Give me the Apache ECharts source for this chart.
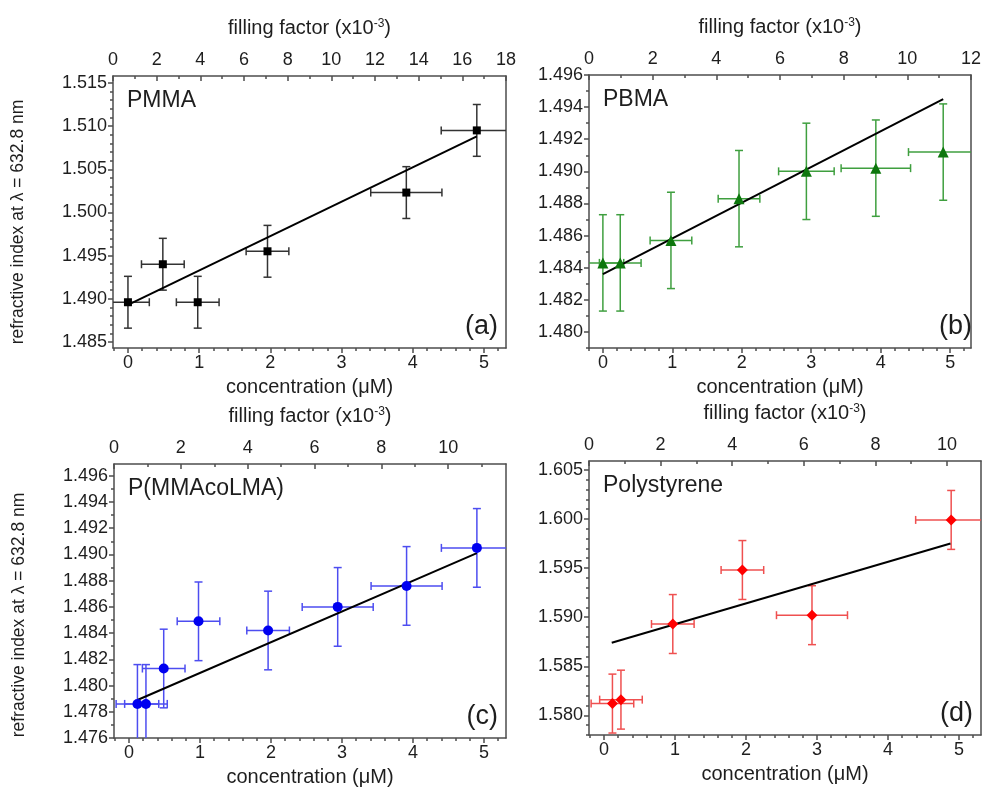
<!DOCTYPE html>
<html>
<head>
<meta charset="utf-8">
<script src="https://cdn.jsdelivr.net/npm/echarts@6/dist/echarts.min.js"></script>
<style>html,body{margin:0;padding:0;background:#fff}#c{width:984px;height:788px}</style>
</head>
<body>
<div id="c"></div>
<script>
// ---------------- data ----------------
const titles = ['PMMA', 'PBMA', 'P(MMAcoLMA)', 'Polystyrene'];
const tags = ['(a)', '(b)', '(c)', '(d)'];

const concTicks = [0, 1, 2, 3, 4, 5];

// (a) PMMA
const concA = [0.0, 0.49, 0.98, 1.96, 3.91, 4.90];
const nA = [1.4896, 1.4940, 1.4896, 1.4955, 1.5023, 1.5095];
const errXA = [0.3, 0.3, 0.3, 0.3, 0.5, 0.5];
const errYA = [0.003, 0.003, 0.003, 0.003, 0.003, 0.003];
const fitA = [[0.0, 1.4893], [4.9, 1.5088]];
const yTicksA = [1.485, 1.490, 1.495, 1.500, 1.505, 1.510, 1.515];
const ffTicksA = [0, 2, 4, 6, 8, 10, 12, 14, 16, 18];

// (b) PBMA
const concB = [0.0, 0.25, 0.98, 1.96, 2.93, 3.93, 4.90];
const nB = [1.4843, 1.4843, 1.4857, 1.4883, 1.4900, 1.4902, 1.4912];
const errXB = [0.3, 0.3, 0.3, 0.3, 0.4, 0.5, 0.5];
const errYB = [0.003, 0.003, 0.003, 0.003, 0.003, 0.003, 0.003];
const fitB = [[0.0, 1.4836], [4.9, 1.4945]];
const yTicksB = [1.480, 1.482, 1.484, 1.486, 1.488, 1.490, 1.492, 1.494, 1.496];
const ffTicksB = [0, 2, 4, 6, 8, 10, 12];

// (c) P(MMAcoLMA)
const concC = [0.12, 0.24, 0.49, 0.98, 1.96, 2.94, 3.91, 4.90];
const nC = [1.4786, 1.4786, 1.4813, 1.4849, 1.4842, 1.4860, 1.4876, 1.4905];
const errXC = [0.3, 0.3, 0.3, 0.3, 0.3, 0.5, 0.5, 0.5];
const errYC = [0.003, 0.003, 0.003, 0.003, 0.003, 0.003, 0.003, 0.003];
const fitC = [[0.12, 1.4789], [4.9, 1.4901]];
const yTicksC = [1.476, 1.478, 1.480, 1.482, 1.484, 1.486, 1.488, 1.490, 1.492, 1.494, 1.496];
const ffTicksC = [0, 2, 4, 6, 8, 10];

// (d) Polystyrene
const concD = [0.12, 0.24, 0.97, 1.95, 2.93, 4.89];
const nD = [1.5812, 1.5816, 1.5893, 1.5948, 1.5902, 1.5999];
const errXD = [0.3, 0.3, 0.3, 0.3, 0.5, 0.5];
const errYD = [0.003, 0.003, 0.003, 0.003, 0.003, 0.003];
const fitD = [[0.11, 1.5874], [4.88, 1.5975]];
const yTicksD = [1.580, 1.585, 1.590, 1.595, 1.600, 1.605];
const ffTicksD = [0, 2, 4, 6, 8, 10];

// ---------------- layout / style ----------------
const FONT = '"Liberation Sans", Arial, Helvetica, sans-serif';
const TXT = '#1e1e1e';
const AX = '#4d4d4d';

const grids = [
  {left: 113, top: 76, width: 393, height: 272},
  {left: 589, top: 75, width: 391, height: 273},
  {left: 114, top: 464, width: 392, height: 274},
  {left: 589, top: 461, width: 392, height: 274}
];

const panels = [
  {conc: concA, n: nA, ex: errXA, ey: errYA, fit: fitA, yTicks: yTicksA, ffTicks: ffTicksA,
   xr: [-0.21, 5.31], yr: [1.4843, 1.5158], ffMax: 18, yMinorStep: 0.001,
   symbol: 'rect', size: 8, color: '#000000', errColor: '#333333', yName: true, namePad: 20},
  {conc: concB, n: nB, ex: errXB, ey: errYB, fit: fitB, yTicks: yTicksB, ffTicks: ffTicksB,
   xr: [-0.2, 5.3], yr: [1.479, 1.496], ffMax: 12, yMinorStep: 0.001,
   symbol: 'triangle', size: 11, color: '#0d770d', errColor: '#3f9f3f', yName: false},
  {conc: concC, n: nC, ex: errXC, ey: errYC, fit: fitC, yTicks: yTicksC, ffTicks: ffTicksC,
   xr: [-0.21, 5.31], yr: [1.476, 1.4969], ffMax: 11.73, yMinorStep: 0.001,
   symbol: 'circle', size: 10, color: '#0000f0', errColor: '#4d4df0', yName: true, namePad: 28},
  {conc: concD, n: nD, ex: errXD, ey: errYD, fit: fitD, yTicks: yTicksD, ffTicks: ffTicksD,
   xr: [-0.21, 5.31], yr: [1.578, 1.6059], ffMax: 10.95, yMinorStep: 0.001,
   symbol: 'diamond', size: 11, color: '#ff0000', errColor: '#ef5050', yName: false}
];

function stepsIn(lo, hi, step) {
  const out = [];
  for (let k = Math.ceil(lo / step - 1e-9); k <= Math.floor(hi / step + 1e-9); k++) {
    out.push(Math.round(k * step * 1e6) / 1e6);
  }
  return out;
}

function errRender(color) {
  return function (params, api) {
    const x = api.value(0), y = api.value(1), dx = api.value(2), dy = api.value(3);
    const cs = params.coordSys;
    const minX = cs.x, maxX = cs.x + cs.width, minY = cs.y, maxY = cs.y + cs.height;
    const cx = v => Math.max(minX, Math.min(maxX, v));
    const cy = v => Math.max(minY, Math.min(maxY, v));
    const c = api.coord([x, y]);
    const l = api.coord([x - dx, y]);
    const r = api.coord([x + dx, y]);
    const t = api.coord([x, y + dy]);
    const b = api.coord([x, y - dy]);
    const style = {stroke: color, lineWidth: 1.5};
    const cap = 4;
    const ch = [
      {type: 'line', shape: {x1: cx(l[0]), y1: c[1], x2: cx(r[0]), y2: c[1]}, style},
      {type: 'line', shape: {x1: c[0], y1: cy(t[1]), x2: c[0], y2: cy(b[1])}, style}
    ];
    if (l[0] >= minX) ch.push({type: 'line', shape: {x1: l[0], y1: c[1] - cap, x2: l[0], y2: c[1] + cap}, style});
    if (r[0] <= maxX) ch.push({type: 'line', shape: {x1: r[0], y1: c[1] - cap, x2: r[0], y2: c[1] + cap}, style});
    if (t[1] >= minY) ch.push({type: 'line', shape: {x1: c[0] - cap, y1: t[1], x2: c[0] + cap, y2: t[1]}, style});
    if (b[1] <= maxY) ch.push({type: 'line', shape: {x1: c[0] - cap, y1: b[1], x2: c[0] + cap, y2: b[1]}, style});
    return {type: 'group', children: ch};
  };
}

const xAxes = [], yAxes = [], series = [], graphics = [];
const lineStyle = {color: AX, width: 1.5};
const labelBase = {color: TXT, fontFamily: FONT, fontSize: 18};

panels.forEach((p, i) => {
  const g = grids[i];
  const xBase = xAxes.length, yBase = yAxes.length;
  // bottom major (data axis)
  xAxes.push({
    gridIndex: i, type: 'value', position: 'bottom', min: p.xr[0], max: p.xr[1],
    axisLine: {onZero: false, lineStyle},
    axisTick: {inside: false, length: 5, customValues: concTicks, lineStyle},
    axisLabel: Object.assign({customValues: concTicks, margin: 6}, labelBase),
    splitLine: {show: false},
    name: 'concentration (\u03bcM)', nameLocation: 'middle', nameGap: 29,
    nameTextStyle: {color: TXT, fontFamily: FONT, fontSize: 20}
  });
  // bottom minor
  xAxes.push({
    gridIndex: i, type: 'value', position: 'bottom', min: p.xr[0], max: p.xr[1],
    axisLine: {show: false, onZero: false},
    axisTick: {inside: false, length: 3, customValues: stepsIn(p.xr[0], p.xr[1], 0.2), lineStyle},
    axisLabel: {show: false}, splitLine: {show: false}
  });
  // top major (filling factor)
  xAxes.push({
    gridIndex: i, type: 'value', position: 'top', min: 0, max: p.ffMax,
    axisLine: {onZero: false, lineStyle},
    axisTick: {inside: true, length: 5, customValues: p.ffTicks, lineStyle},
    axisLabel: Object.assign({customValues: p.ffTicks, margin: 7}, labelBase),
    splitLine: {show: false},
    name: 'filling factor (x10{sup|-3})', nameLocation: 'middle', nameGap: 38,
    nameTextStyle: {color: TXT, fontFamily: FONT, fontSize: 20,
      rich: {sup: {color: TXT, fontFamily: FONT, fontSize: 12, verticalAlign: 'top', lineHeight: 12}}}
  });
  // top minor
  xAxes.push({
    gridIndex: i, type: 'value', position: 'top', min: 0, max: p.ffMax,
    axisLine: {show: false, onZero: false},
    axisTick: {inside: true, length: 3, customValues: stepsIn(0, p.ffMax, 1), lineStyle},
    axisLabel: {show: false}, splitLine: {show: false}
  });
  // left major (data axis)
  const yMajor = {
    gridIndex: i, type: 'value', position: 'left', min: p.yr[0], max: p.yr[1],
    axisLine: {onZero: false, lineStyle},
    axisTick: {inside: false, length: 5, customValues: p.yTicks, lineStyle},
    axisLabel: Object.assign({customValues: p.yTicks, margin: 6, formatter: v => v.toFixed(3)}, labelBase),
    splitLine: {show: false}
  };
  if (p.yName) {
    Object.assign(yMajor, {
      name: 'refractive index at \u03bb = 632.8 nm', nameLocation: 'middle', nameGap: 86,
      nameTextStyle: {color: TXT, fontFamily: FONT, fontSize: 17.5, padding: [0, p.namePad, 0, 0]}
    });
  }
  yAxes.push(yMajor);
  // left minor
  yAxes.push({
    gridIndex: i, type: 'value', position: 'left', min: p.yr[0], max: p.yr[1],
    axisLine: {show: false, onZero: false},
    axisTick: {inside: false, length: 3, customValues: stepsIn(p.yr[0], p.yr[1], p.yMinorStep), lineStyle},
    axisLabel: {show: false}, splitLine: {show: false}
  });
  // right frame
  yAxes.push({
    gridIndex: i, type: 'value', position: 'right', min: p.yr[0], max: p.yr[1],
    axisLine: {onZero: false, lineStyle}, axisTick: {show: false},
    axisLabel: {show: false}, splitLine: {show: false}
  });

  series.push({
    type: 'custom', xAxisIndex: xBase, yAxisIndex: yBase, z: 2,
    renderItem: errRender(p.errColor),
    encode: {x: 0, y: 1},
    data: p.conc.map((c, j) => [c, p.n[j], p.ex[j], p.ey[j]]),
    silent: true
  });
  series.push({
    type: 'line', xAxisIndex: xBase, yAxisIndex: yBase, z: 3,
    data: p.fit, showSymbol: false, symbol: 'none',
    lineStyle: {color: '#000', width: 2}, silent: true
  });
  series.push({
    type: 'scatter', xAxisIndex: xBase, yAxisIndex: yBase, z: 4,
    data: p.conc.map((c, j) => [c, p.n[j]]),
    symbol: p.symbol, symbolSize: p.size,
    itemStyle: {color: p.color, opacity: 1}, silent: true
  });

  graphics.push({
    type: 'text', left: g.left + 14, top: g.top + 13, z: 10,
    style: {text: titles[i], font: '23px ' + FONT, fill: TXT}
  });
  graphics.push({
    type: 'text', right: 984 - (g.left + g.width) + 8, top: g.top + g.height - 35, z: 10,
    style: {text: tags[i], font: '27px ' + FONT, fill: TXT}
  });
});

const chart = echarts.init(document.getElementById('c'), null, {renderer: 'canvas'});
chart.setOption({
  backgroundColor: '#ffffff',
  animation: false,
  grid: grids.map(g => Object.assign({containLabel: false}, g)),
  xAxis: xAxes,
  yAxis: yAxes,
  series: series,
  graphic: graphics
});
</script>
</body>
</html>
